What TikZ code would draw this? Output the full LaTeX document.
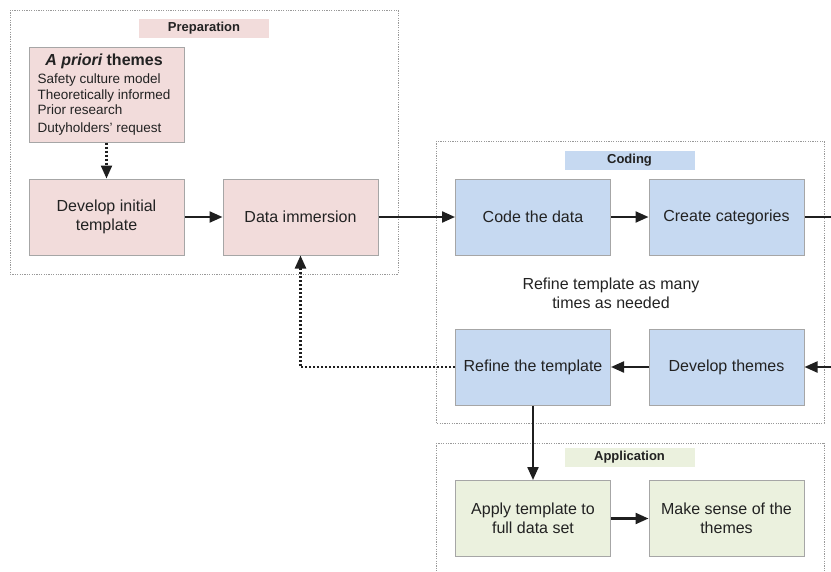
\documentclass[tikz,border=0pt]{standalone}
\usepackage{fontspec}
\setmainfont{Liberation Sans}
\usetikzlibrary{arrows.meta}
\definecolor{prepfill}{HTML}{F2DCDB}
\definecolor{codefill}{HTML}{C6D9F1}
\definecolor{appfill}{HTML}{EBF1DE}
\definecolor{boxline}{HTML}{A6A6A6}
\definecolor{txt}{HTML}{222222}
\tikzset{
  stepbox/.style={draw=boxline, line width=1pt, minimum width=155pt, minimum height=76pt,
    inner sep=0pt, align=center, text=txt, font=\fontsize{16}{19}\selectfont},
  phasetag/.style={minimum width=130pt, minimum height=19pt, inner sep=0pt,
    text=txt, font=\bfseries\fontsize{13}{15}\selectfont},
  frame/.style={draw=gray!80, line width=0.7pt, dash pattern=on 1.2pt off 1.2pt},
  flow/.style={line width=2.2pt, draw=black!88, -{Triangle[length=13pt,width=11pt]}},
  link/.style={line width=2.2pt, draw=black!88},
  loopback/.style={line width=2.2pt, draw=black!88, dash pattern=on 2pt off 2pt,
    -{Triangle[length=13pt,width=11pt]}},
}
\begin{document}
\begin{tikzpicture}[x=1pt, y=-1pt]
\useasboundingbox (0,0) rectangle (831,571);

% phase frames
\draw[frame] (10,10) rectangle (398,274);
\draw[frame] (436,141) rectangle (824,423);
\draw[frame] (436,443) -- (824,443) (436,443) -- (436,575) (824,443) -- (824,575);

% phase tags
\node[phasetag, fill=prepfill] (tprep) at (204,28.5) {Preparation};
\node[phasetag, fill=codefill] (tcode) at (629.5,160.5) {Coding};
\node[phasetag, fill=appfill] (tapp) at (629.5,457) {Application};

% preparation
\node[stepbox, fill=prepfill, minimum height=95pt] (apriori) at (106.5,94.5) {};
\node[text=txt, inner sep=0pt, anchor=north, font=\fontsize{13.5}{16}\selectfont]
  (apriorilist) at (104,54) {%
  \begin{tabular}{@{}l@{}}
  \multicolumn{1}{c}{\fontsize{16}{19}\selectfont\bfseries\itshape A priori\upshape\ themes}\\[2pt]
  Safety culture model\\[-0.5pt]
  Theoretically informed\\[-0.5pt]
  Prior research\\[2pt]
  Dutyholders' request
  \end{tabular}};
\node[stepbox, fill=prepfill] (init) at (106.5,217) {Develop initial\\template};
\node[stepbox, fill=prepfill] (immerse) at (300.5,217) {Data immersion};

% coding
\node[stepbox, fill=codefill] (code) at (533,217) {Code the data};
\node[stepbox, fill=codefill] (cats) at (726.5,217) {Create categories};
\node[stepbox, fill=codefill] (refine) at (533,367) {Refine the template};
\node[stepbox, fill=codefill] (themes) at (726.5,367) {Develop themes};
\node[text=txt, font=\fontsize{16}{19}\selectfont, align=center] (note) at (611,293)
  {Refine template as many\\times as needed};

% application
\node[stepbox, fill=appfill] (apply) at (533,518.5) {Apply template to\\full data set};
\node[stepbox, fill=appfill] (sense) at (726.5,518.5) {Make sense of the\\themes};

% loop continuing past the right edge
\coordinate (outR) at (832,217);
\coordinate (inR) at (832,367);
\coordinate (bend) at (300.5,367);

% connectors
\draw[loopback] (apriori.south) -- (init.north);
\draw[flow] (init) -- (immerse);
\draw[flow] (immerse) -- (code);
\draw[flow] (code) -- (cats);
\draw[link] (cats.east) -- (outR);
\draw[flow] (inR) -- (themes.east);
\draw[flow] (themes) -- (refine);
\draw[loopback] (refine.west) -- (bend) -- (immerse.south);
\draw[flow] (refine.south) -- (apply.north);
\draw[flow] (apply) -- (sense);
\end{tikzpicture}
\end{document}
